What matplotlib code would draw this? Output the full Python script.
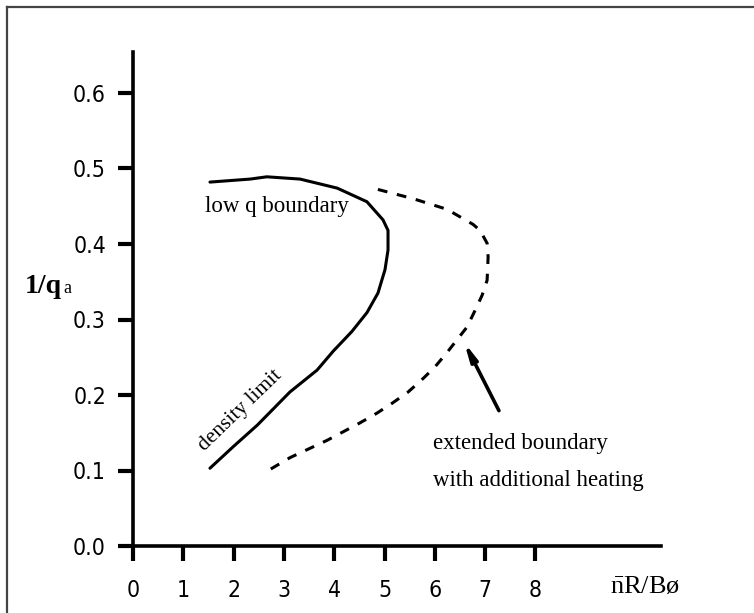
import numpy as np
import matplotlib; matplotlib.use("Agg")
import matplotlib.pyplot as plt
from matplotlib.lines import Line2D

plt.rcParams["mathtext.fontset"] = "custom"
plt.rcParams["mathtext.rm"] = "Liberation Serif"

# curve readings (x = nR/B, y = 1/q_a)
solid_x = [1.53, 2.00, 2.47, 3.12, 3.66, 3.98, 4.35, 4.65, 4.87, 5.01, 5.07, 5.07, 4.97, 4.65, 4.06, 3.32, 2.66, 2.33, 1.53]
solid_y = [0.103, 0.132, 0.160, 0.204, 0.233, 0.258, 0.284, 0.309, 0.335, 0.366, 0.392, 0.418, 0.432, 0.456, 0.474, 0.486, 0.489, 0.486, 0.482]
dash_x = [2.74, 3.12, 3.86, 4.51, 4.85, 5.15, 5.47, 5.77, 6.00, 6.24, 6.44, 6.64, 6.80, 6.94, 7.04, 7.06, 7.04, 6.90, 6.76, 6.24, 5.57, 4.77]
dash_y = [0.102, 0.117, 0.140, 0.163, 0.176, 0.189, 0.204, 0.222, 0.237, 0.256, 0.273, 0.290, 0.312, 0.332, 0.352, 0.383, 0.401, 0.418, 0.426, 0.446, 0.460, 0.474]
xticks = [0, 1, 2, 3, 4, 5, 6, 7, 8]
yticks = [0.0, 0.1, 0.2, 0.3, 0.4, 0.5, 0.6]
ytick_labels = ["0.0", "0.1", "0.2", "0.3", "0.4", "0.5", "0.6"]

W, H = 754, 613
fig = plt.figure(figsize=(W/100, H/100), dpi=100)
x0, x1, y0, y1 = 133, 661, 546, 52
ax = fig.add_axes([x0/W, 1-y0/H, (x1-x0)/W, (y0-y1)/H])
ax.set_xlim(0, (x1-x0)/50.3)
ax.set_ylim(0, (y0-y1)/755)

ax.plot(solid_x, solid_y, color="black", lw=2.2, solid_capstyle="round", solid_joinstyle="round")
ax.plot(dash_x, dash_y, color="black", lw=2.2, ls=(0, (3.2, 3.2)))

for s in ("top", "right"):
    ax.spines[s].set_visible(False)
for s in ("left", "bottom"):
    ax.spines[s].set_linewidth(2.6)
ax.set_xticks(xticks)
ax.set_yticks(yticks)
ax.set_yticklabels(ytick_labels)
ax.tick_params(length=10.5, width=3, direction="out", labelsize=16.5)
ax.tick_params(axis="y", pad=9)
ax.tick_params(axis="x", pad=13)
for lab in ax.get_xticklabels() + ax.get_yticklabels():
    lab.set_family("DejaVu Sans")
    lab.set_stretch("condensed")

serif = "Liberation Serif"
ax.text(1.43, 0.442, "low q boundary", family=serif, fontsize=16.5, va="baseline")
ax.text(2.13, 0.179, "density limit", family=serif, fontsize=15.5, rotation=44,
        ha="center", va="center", rotation_mode="anchor")
ax.text(5.96, 0.128, "extended boundary", family=serif, fontsize=16.5, va="baseline")
ax.text(5.96, 0.079, "with additional heating", family=serif, fontsize=16.5, va="baseline")
ax.annotate("", xy=(6.56, 0.273), xytext=(7.3, 0.176),
            arrowprops=dict(arrowstyle="-|>,head_length=1.0,head_width=0.2", color="black", lw=2.6))

ax.text(9.48, -0.062, r"$\bar{\mathrm{n}}$R/B\u00f8".replace("\\u00f8", "\u00f8"),
        family=serif, fontsize=19, va="baseline", clip_on=False)
ax.text(-2.15, 0.335, "1/q", family=serif, fontsize=20, fontweight="bold", va="baseline", clip_on=False)
ax.text(-1.39, 0.335, "a", family=serif, fontsize=13, va="baseline", clip_on=False)

# frame lines at top and left
fig.add_artist(Line2D([7/W, 1], [1-7/H, 1-7/H], color="#444444", lw=1.6))
fig.add_artist(Line2D([7/W, 7/W], [0, 1-7/H], color="#444444", lw=1.6))

fig.savefig("out.png", dpi=100)
